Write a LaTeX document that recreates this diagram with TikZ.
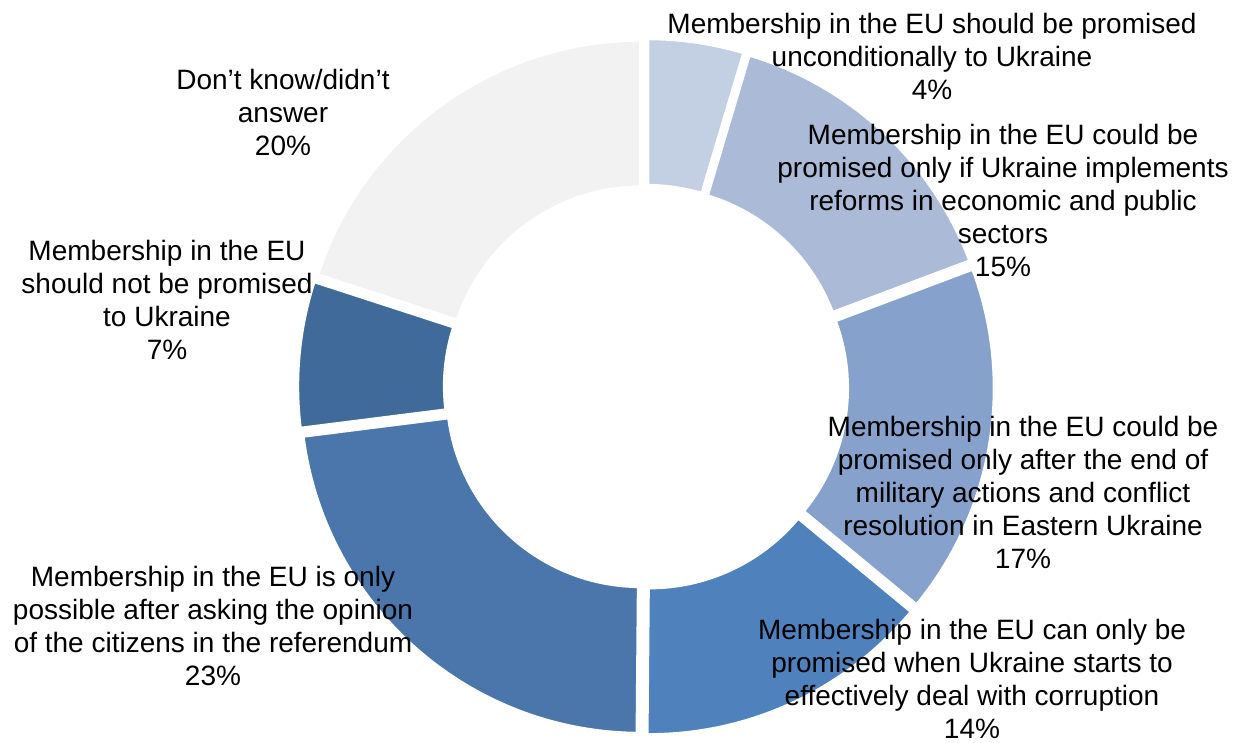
\documentclass[tikz,border=0pt]{standalone}
\usepackage{fontspec}
\setmainfont{Liberation Sans}
\definecolor{cA}{HTML}{C3CFE2}
\definecolor{cB}{HTML}{AABAD7}
\definecolor{cC}{HTML}{86A1CB}
\definecolor{cD}{HTML}{4F81BD}
\definecolor{cE}{HTML}{4A76AC}
\definecolor{cF}{HTML}{3F6A9A}
\definecolor{cG}{HTML}{F2F2F2}
\tikzset{
  lbl/.style={align=center, inner sep=0pt, font=\fontsize{28}{33}\selectfont},
}
\begin{document}
\begin{tikzpicture}[x=1pt,y=1pt]
\useasboundingbox (0,0) rectangle (1245,742);
\coordinate (C) at (646,355);
\def\Ro{341}\def\Ri{193}\def\Dx{8}
% fills
\foreach \a/\b/\col in {90/73.4/cA, 73.4/20.6/cB, 20.6/-39.6/cC, -39.6/-90.5/cD, -90.5/-172.8/cE, -172.8/-198/cF, -198/-270/cG}{
  \pgfmathsetmacro\mid{(\a+\b)/2}
  \begin{scope}[shift={(C)}, shift={(\mid:\Dx)}]
    \fill[\col] (\a:\Ro) arc[start angle=\a, end angle=\b, radius=\Ro] -- (\b:\Ri) arc[start angle=\b, end angle=\a, radius=\Ri] -- cycle;
  \end{scope}
}
% white borders
\foreach \a/\b in {90/73.4, 73.4/20.6, 20.6/-39.6, -39.6/-90.5, -90.5/-172.8, -172.8/-198, -198/-270}{
  \pgfmathsetmacro\mid{(\a+\b)/2}
  \begin{scope}[shift={(C)}, shift={(\mid:\Dx)}]
    \draw[white, line width=4.3pt, line join=miter] (\a:\Ro) arc[start angle=\a, end angle=\b, radius=\Ro] -- (\b:\Ri) arc[start angle=\b, end angle=\a, radius=\Ri] -- cycle;
  \end{scope}
}
\node[lbl] (l1) at (932,686) {Membership in the EU should be promised\\unconditionally to Ukraine\\4\%};
\node[lbl] (l2) at (1003,542) {Membership in the EU could be\\promised only if Ukraine implements\\reforms in economic and public\\sectors\\15\%};
\node[lbl] (l3) at (1023,250) {Membership in the EU could be\\promised only after the end of\\military actions and conflict\\resolution in Eastern Ukraine\\17\%};
\node[lbl] (l4) at (972,63) {Membership in the EU can only be\\promised when Ukraine starts to\\effectively deal with corruption\\14\%};
\node[lbl] (l5) at (213,116) {Membership in the EU is only\\possible after asking the opinion\\of the citizens in the referendum\\23\%};
\node[lbl] (l6) at (167,442) {Membership in the EU\\should not be promised\\to Ukraine\\7\%};
\node[lbl] (l7) at (283,630) {Don’t know/didn’t\\answer\\20\%};
\end{tikzpicture}
\end{document}
